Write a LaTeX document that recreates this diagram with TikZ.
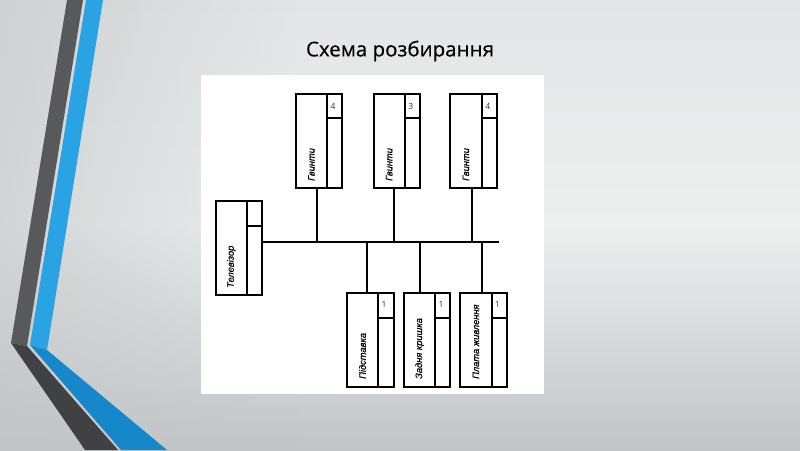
\documentclass[tikz,border=0pt]{standalone}
\usepackage{fontspec}
\setmainfont{Open Sans}
\newfontfamily\lblfont[FakeBold=0.6]{Liberation Sans}
\newfontfamily\titlefont[FakeBold=0.4]{Open Sans}
\usetikzlibrary{fadings}
\definecolor{bgtop}{HTML}{E3E5E6}
\definecolor{bgmid}{HTML}{EDEFEF}
\definecolor{bgbot}{HTML}{C1C5C7}
\definecolor{darkA}{HTML}{58595B}
\definecolor{darkB}{HTML}{404142}
\definecolor{blueA}{HTML}{2AA3E5}
\definecolor{blueB}{HTML}{1688C9}
\definecolor{numgray}{HTML}{333333}
\tikzset{
  frame/.style={draw=black, line width=1.7pt},
  conn/.style={draw=black, line width=1.7pt},
  lbl/.style={font=\lblfont\itshape\fontsize{9.3}{10}\selectfont, rotate=90, anchor=west, inner sep=0pt},
  num/.style={font=\fontsize{8.5}{9}\selectfont, text=numgray, inner sep=0pt, anchor=west},
}
\begin{document}
\begin{tikzpicture}[x=1pt,y=-1pt]
\useasboundingbox (0,0) rectangle (800,450);
% background
\shade[top color=bgtop, bottom color=bgbot, middle color=bgmid] (0,0) rectangle (800,450);
\fill[bgbot, path fading=east, fill opacity=0.6] (0,0) rectangle (300,450);
% stripes
\fill[darkA] (67,0) -- (83,0) -- (27,346) -- (11,343) -- cycle;
\fill[darkB] (11,343) -- (27,346) -- (118,450) -- (85,450) -- cycle;
\fill[blueA] (86,0) -- (103,0) -- (47,350) -- (30,345) -- cycle;
\fill[blueB] (30,345) -- (47,350) -- (167,450) -- (121,450) -- cycle;
% title
\node[font=\titlefont\fontsize{20.5}{24}\selectfont, text=black] (title) at (400,51) {Схема розбирання};
% white panel
\fill[white] (201,75) rectangle (544,394);
% top boxes
\foreach \n/\xa/\xd/\xb/\num in {g1/295.7/327/342.3/4, g2/373.7/404.7/420/3, g3/450/481.7/497/4}{
  \draw[frame] (\xa,94.3) rectangle (\xb,188.3);
  \draw[frame] (\xd,94.3) -- (\xd,188.3);
  \draw[frame] (\xd,118.3) -- (\xb,118.3);
  \node[lbl] (\n) at ({(\xa+\xd)/2},181) {Гвинти};
  \node[num] (\n n) at ({\xd+3.5},106.5) {\num};
}
% TV box
\draw[frame] (215.7,201) rectangle (262.3,295);
\draw[frame] (247,201) -- (247,295);
\draw[frame] (247,226) -- (262.3,226);
\node[lbl] (tv) at (231.3,288) {Телевізор};
\coordinate (tvr) at (262.3,242);
\coordinate (busend) at (499.3,242);
\draw[conn] (tvr) -- (busend);
% bottom boxes
\foreach \n/\xa/\xd/\xb/\txt in {b1/346.7/378.3/393.7/Підставка, b2/404/435.3/450.3/Задня кришка, b3/460/491.7/507/Плата живлення}{
  \draw[frame] (\xa,293.3) rectangle (\xb,386.7);
  \draw[frame] (\xd,293.3) -- (\xd,386.7);
  \draw[frame] (\xd,318.3) -- (\xb,318.3);
  \node[lbl] (\n) at ({(\xa+\xd)/2},379) {\txt};
  \node[num] (\n n) at ({\xd+3},304.5) {1};
}
% connectors
\foreach \x/\c in {317.3/g1b, 394/g2b, 472.3/g3b}{
  \coordinate (\c t) at (\x,188.3);
  \coordinate (\c j) at (\x,242);
  \draw[conn] (\c t) -- (\c j);
}
\foreach \x/\c in {367.3/b1, 419.7/b2, 481.7/b3}{
  \coordinate (\c j) at (\x,242);
  \coordinate (\c t) at (\x,293.3);
  \draw[conn] (\c j) -- (\c t);
}
\end{tikzpicture}
\end{document}
